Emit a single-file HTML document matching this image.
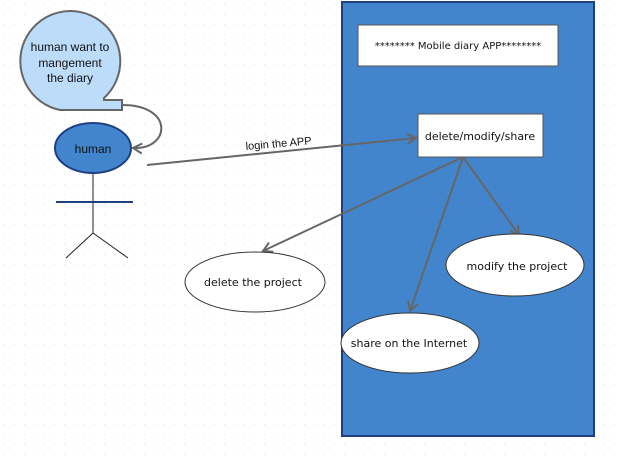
<!DOCTYPE html>
<html><head><meta charset="utf-8"><style>
html,body{margin:0;padding:0;background:#fff;width:623px;height:460px;overflow:hidden}
</style></head><body>
<svg width="623" height="460" xmlns="http://www.w3.org/2000/svg">
<defs>
<pattern id="dots" width="10" height="10" patternUnits="userSpaceOnUse"><rect x="4" y="4" width="1" height="1" fill="#e2e2e2"/></pattern>
<marker id="ar" markerWidth="12" markerHeight="12" refX="10" refY="6" orient="auto" markerUnits="userSpaceOnUse"><path d="M1,1 L10,6 L1,11" fill="none" stroke="#666" stroke-width="2"/></marker>
</defs>
<rect width="623" height="460" fill="url(#dots)"/>
<rect x="342" y="2" width="252" height="434" fill="#4285cc" stroke="#1e3f80" stroke-width="2"/>
<!-- speech bubble -->
<path d="M104,98 A50,50 0 1 0 60,110 L122,110 L122,100 L104,100 Z" fill="#bcdcfa" stroke="#666" stroke-width="2"/>
<text font-family="Liberation Sans,sans-serif" font-size="12" fill="#111" text-anchor="middle"><tspan x="70" y="51">human want to</tspan><tspan x="70" y="67">mangement</tspan><tspan x="70" y="82">the diary</tspan></text>
<path d="M122,105 C175,105 170,150 133,148" fill="none" stroke="#666" stroke-width="2" marker-end="url(#ar)"/>
<!-- human -->
<ellipse cx="93" cy="148" rx="38" ry="25" fill="#4285cc" stroke="#1e3f80" stroke-width="2"/>
<text x="93" y="153" font-family="Liberation Sans,sans-serif" font-size="12" fill="#111" text-anchor="middle">human</text>
<line x1="93" y1="174" x2="93" y2="233" stroke="#222" stroke-width="1"/>
<line x1="56" y1="202" x2="133" y2="202" stroke="#1e3f80" stroke-width="2"/>
<path d="M66,258 L93,233 L128,258" fill="none" stroke="#222" stroke-width="1"/>
<!-- login arrow -->
<line x1="147" y1="165" x2="416" y2="138" stroke="#666" stroke-width="2" marker-end="url(#ar)"/>
<text x="246" y="150" font-family="Liberation Sans,sans-serif" font-size="11" fill="#111" transform="rotate(-5 246 150)">login the APP</text>
<!-- boxes -->
<rect x="358" y="25" width="200" height="41" fill="#fff" stroke="#555" stroke-width="1"/>
<text x="458" y="49" font-family="'Comic Sans MS','DejaVu Sans',sans-serif" font-size="10" fill="#111" text-anchor="middle">******** Mobile diary APP********</text>
<rect x="418" y="114" width="125" height="43" fill="#fff" stroke="#555" stroke-width="1"/>
<text x="480" y="140" font-family="'Comic Sans MS','DejaVu Sans',sans-serif" font-size="11" fill="#111" text-anchor="middle">delete/modify/share</text>
<!-- arrows -->
<line x1="463" y1="157" x2="263" y2="251" stroke="#666" stroke-width="2" marker-end="url(#ar)"/>
<line x1="463" y1="157" x2="410" y2="311" stroke="#666" stroke-width="2" marker-end="url(#ar)"/>
<line x1="463" y1="157" x2="519" y2="235" stroke="#666" stroke-width="2" marker-end="url(#ar)"/>
<!-- ellipses -->
<ellipse cx="255" cy="282" rx="70" ry="30" fill="#fff" stroke="#333" stroke-width="1"/>
<text x="253" y="286" font-family="'Comic Sans MS','DejaVu Sans',sans-serif" font-size="11" fill="#111" text-anchor="middle">delete the project</text>
<ellipse cx="515" cy="265" rx="69" ry="31" fill="#fff" stroke="#333" stroke-width="1"/>
<text x="517" y="270" font-family="'Comic Sans MS','DejaVu Sans',sans-serif" font-size="11" fill="#111" text-anchor="middle">modify the project</text>
<ellipse cx="410" cy="343" rx="69" ry="30" fill="#fff" stroke="#333" stroke-width="1"/>
<text x="409" y="347" font-family="'Comic Sans MS','DejaVu Sans',sans-serif" font-size="11" fill="#111" text-anchor="middle">share on the Internet</text>
</svg>
</body></html>
